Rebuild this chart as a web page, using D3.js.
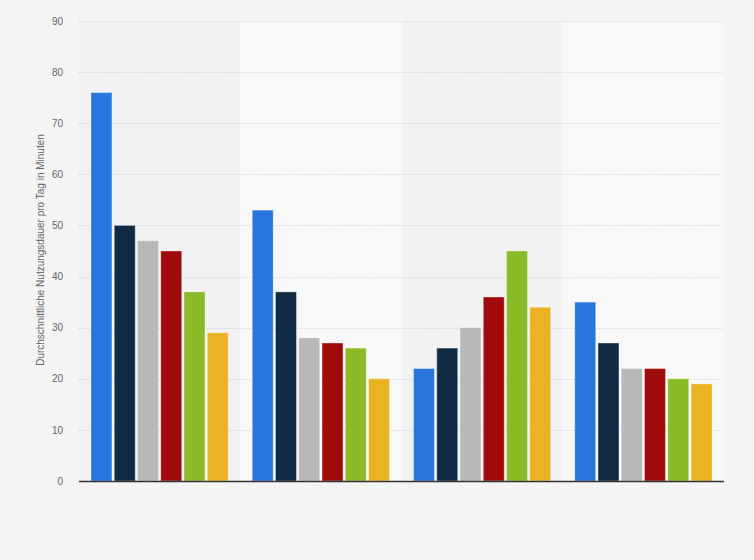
<!DOCTYPE html>
<html><head><meta charset="utf-8">
<script src="https://cdn.jsdelivr.net/npm/d3@7"></script>
<style>
html,body{margin:0;padding:0;background:#f4f4f4;}
svg{display:block;font-family:Arial,"Liberation Sans",sans-serif;}
</style></head>
<body>
<svg id="chart" width="754" height="560"></svg>
<script>
const categories = ["Gruppe 1", "Gruppe 2", "Gruppe 3", "Gruppe 4"];
const seriesNames = ["Serie 1", "Serie 2", "Serie 3", "Serie 4", "Serie 5", "Serie 6"];
const serie1 = [76, 53, 22, 35];
const serie2 = [50, 37, 26, 27];
const serie3 = [47, 28, 30, 22];
const serie4 = [45, 27, 36, 22];
const serie5 = [37, 26, 45, 20];
const serie6 = [29, 20, 34, 19];
const yTicks = [0, 10, 20, 30, 40, 50, 60, 70, 80, 90];
const yLabel = "Durchschnittliche Nutzungsdauer pro Tag in Minuten";
const colors = ["#2876dd", "#0f2a42", "#b8b8b8", "#a10a0a", "#8aba26", "#e9b323"];

const seriesValues = [serie1, serie2, serie3, serie4, serie5, serie6];
const svg = d3.select("#chart");
const m = {left: 79, right: 30, top: 21, bottom: 79};
const W = 754, H = 560;
const iw = W - m.left - m.right, ih = H - m.top - m.bottom;
const g = svg.append("g").attr("transform", `translate(${m.left},${m.top})`);

const x0 = d3.scaleBand().domain(categories).range([0, iw]).paddingInner(0).paddingOuter(0);
const x1 = d3.scaleBand().domain(seriesNames).range([12, x0.bandwidth() - 12]).paddingInner(0.1);
const y = d3.scaleLinear().domain([0, 90]).range([ih, 0]);

// band backgrounds
g.selectAll("rect.band").data(categories).join("rect")
  .attr("x", d => x0(d)).attr("y", 0)
  .attr("width", x0.bandwidth()).attr("height", ih)
  .attr("fill", (d, i) => i % 2 === 1 ? "#f8f8f8" : "#f2f2f2");

// grid
g.selectAll("line.grid").data(yTicks.filter(t => t > 0)).join("line")
  .attr("x1", 0).attr("x2", iw)
  .attr("y1", d => Math.round(y(d)) + 0.5).attr("y2", d => Math.round(y(d)) + 0.5)
  .attr("stroke", "#cfcfcf").attr("stroke-dasharray", "1,1.5");

// y axis
const yAxis = d3.axisLeft(y).tickValues(yTicks).tickSize(0).tickPadding(16);
const ya = g.append("g").call(yAxis);
ya.select(".domain").remove();
ya.selectAll("text").attr("fill", "#666").style("font-size", "10px");

// bars
const data = [];
categories.forEach((c, ci) => seriesNames.forEach((s, si) => data.push({c, s, si, v: seriesValues[si][ci]})));
g.selectAll("rect.bar").data(data).join("rect")
  .attr("x", d => x0(d.c) + x1(d.s))
  .attr("y", d => y(d.v))
  .attr("width", x1.bandwidth())
  .attr("height", d => ih - y(d.v))
  .attr("fill", d => colors[d.si])
  .attr("stroke", "rgba(255,255,255,0.35)").attr("stroke-width", 1);

// baseline
g.append("line").attr("x1", 0).attr("x2", iw).attr("y1", ih + 0.5).attr("y2", ih + 0.5)
  .attr("stroke", "#333").attr("stroke-width", 1.5);

// y label
svg.append("text")
  .attr("transform", `translate(44,250) rotate(-90)`)
  .attr("text-anchor", "middle").attr("fill", "#666").style("font-size", "10px")
  .text(yLabel);
</script>
</body></html>
